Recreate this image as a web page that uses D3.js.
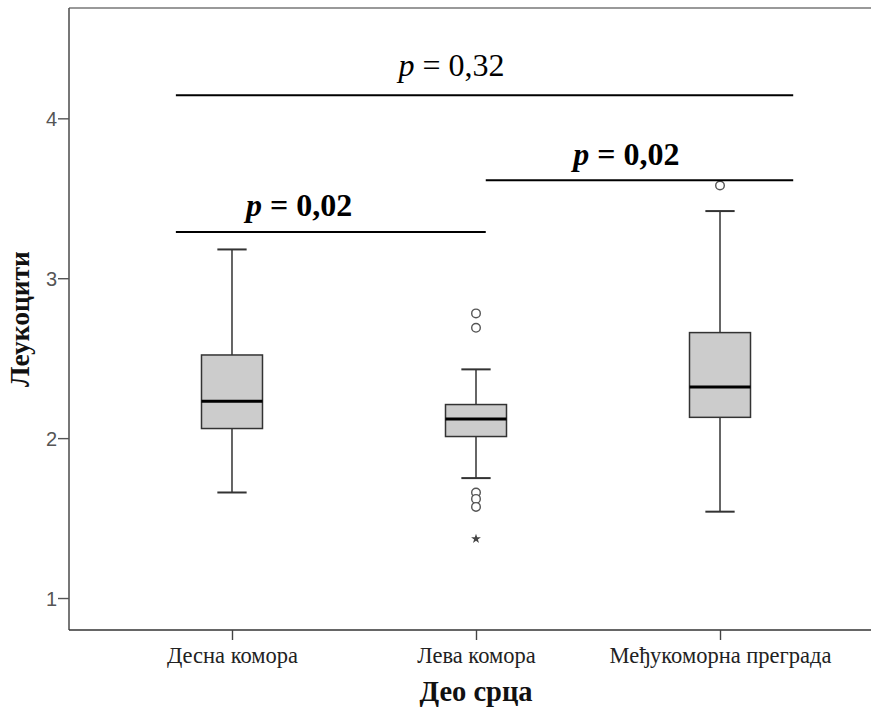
<!DOCTYPE html>
<html>
<head>
<meta charset="utf-8">
<script src="https://cdn.jsdelivr.net/npm/d3@7"></script>
<style>
  html, body { margin: 0; padding: 0; background: #fff; }
  svg { display: block; }
</style>
</head>
<body>
<svg id="chart" width="871" height="713"></svg>
<script>
// Leukocyte values by heart region
const categories = ["Десна комора", "Лева комора", "Међукоморна преграда"];
const whiskerLow = [1.66, 1.75, 1.54];
const q1 = [2.06, 2.01, 2.13];
const medians = [2.23, 2.12, 2.32];
const q3 = [2.52, 2.21, 2.66];
const whiskerHigh = [3.18, 2.43, 3.42];
const outliers = [[], [2.78, 2.69, 1.66, 1.62, 1.57], [3.58]];
const extremes = [[], [1.37], []];
const yTicks = [1, 2, 3, 4];

// Pairwise comparisons: span in category-index units, bracket level, label
const pLabels = ["0,32", "0,02", "0,02"];
const pBold = [false, true, true];
const bracketFrom = [-0.23, -0.23, 1.04];
const bracketTo = [2.30, 1.04, 2.30];
const bracketLevel = [4.144, 3.289, 3.6125];
const labelLevel = [4.2625, 3.3875, 3.706];
const labelAt = [0.9, 0.275, 1.616];

const svg = d3.select("#chart");
const plotLeft = 69, plotTop = 8, plotRight = 883, plotBottom = 630;

const x = d3.scalePoint().domain(categories).range([plotLeft, plotRight]).padding(0.668);
const xi = i => x(categories[0]) + i * x.step();
const y = d3.scaleLinear().domain([0.8, 4.69]).range([plotBottom, plotTop]);
const boxW = x.step() * 0.25;
const capW = boxW * 0.48;

// frame
svg.append("line").attr("x1", plotLeft).attr("x2", plotRight).attr("y1", plotTop).attr("y2", plotTop)
  .attr("stroke", "#999").attr("stroke-width", 2);

// y axis
const yAxis = svg.append("g").attr("transform", `translate(${plotLeft},0)`)
  .call(d3.axisLeft(y).tickValues(yTicks).tickFormat(d3.format("d")).tickSize(11).tickSizeOuter(0));
yAxis.select(".domain").attr("stroke", "#555").attr("stroke-width", 1.6)
  .attr("d", `M0,${plotTop}V${plotBottom}`);
yAxis.selectAll(".tick line").attr("stroke", "#555").attr("stroke-width", 1.4);
yAxis.selectAll(".tick text").attr("font-family", "Liberation Sans, Arial, sans-serif")
  .attr("font-size", 20).attr("fill", "#555").attr("x", -12).attr("dy", "0.36em");

// x axis
const xAxis = svg.append("g").attr("transform", `translate(0,${plotBottom})`)
  .call(d3.axisBottom(x).tickSize(10).tickSizeOuter(0));
xAxis.select(".domain").attr("stroke", "#333").attr("stroke-width", 1.6)
  .attr("d", `M${plotLeft},0H${plotRight}`);
xAxis.selectAll(".tick line").attr("stroke", "#444").attr("stroke-width", 1.4);
xAxis.selectAll(".tick text").attr("font-family", "Liberation Serif, serif")
  .attr("font-size", 22.5).attr("fill", "#222").attr("y", 33).attr("dy", 0);

// axis titles
svg.append("text").attr("transform", `translate(29,${(plotTop + plotBottom) / 2}) rotate(-90)`)
  .attr("text-anchor", "middle").attr("font-family", "Liberation Serif, serif")
  .attr("font-weight", "bold").attr("font-size", 27.5).attr("fill", "#111").text("Леукоцити");
svg.append("text").attr("x", x(categories[1])).attr("y", 701)
  .attr("text-anchor", "middle").attr("font-family", "Liberation Serif, serif")
  .attr("font-weight", "bold").attr("font-size", 28.5).attr("fill", "#111").text("Део срца");

// boxes
const boxes = svg.append("g").selectAll("g").data(categories).join("g")
  .attr("transform", d => `translate(${x(d)},0)`);
boxes.append("line").attr("y1", (d, i) => y(whiskerLow[i])).attr("y2", (d, i) => y(q1[i]))
  .attr("stroke", "#333").attr("stroke-width", 1.5);
boxes.append("line").attr("y1", (d, i) => y(q3[i])).attr("y2", (d, i) => y(whiskerHigh[i]))
  .attr("stroke", "#333").attr("stroke-width", 1.5);
boxes.append("line").attr("x1", -capW / 2).attr("x2", capW / 2)
  .attr("y1", (d, i) => y(whiskerLow[i])).attr("y2", (d, i) => y(whiskerLow[i]))
  .attr("stroke", "#333").attr("stroke-width", 2);
boxes.append("line").attr("x1", -capW / 2).attr("x2", capW / 2)
  .attr("y1", (d, i) => y(whiskerHigh[i])).attr("y2", (d, i) => y(whiskerHigh[i]))
  .attr("stroke", "#333").attr("stroke-width", 2);
boxes.append("rect").attr("x", -boxW / 2).attr("width", boxW)
  .attr("y", (d, i) => y(q3[i])).attr("height", (d, i) => y(q1[i]) - y(q3[i]))
  .attr("fill", "#cccccc").attr("stroke", "#333").attr("stroke-width", 1.5);
boxes.append("line").attr("x1", -boxW / 2).attr("x2", boxW / 2)
  .attr("y1", (d, i) => y(medians[i])).attr("y2", (d, i) => y(medians[i]))
  .attr("stroke", "#000").attr("stroke-width", 3);

// outliers and extremes
boxes.selectAll("circle").data((d, i) => outliers[i]).join("circle")
  .attr("cy", v => y(v)).attr("r", 4.3)
  .attr("fill", "#fff").attr("stroke", "#555").attr("stroke-width", 1.4);
boxes.selectAll("path.extreme").data((d, i) => extremes[i]).join("path")
  .attr("class", "extreme")
  .attr("transform", v => `translate(0,${y(v)})`)
  .attr("d", d3.symbol(d3.symbolStar, 30))
  .attr("fill", "#444");

// comparison brackets
const ann = svg.append("g");
pLabels.forEach((lab, k) => {
  ann.append("line").attr("x1", xi(bracketFrom[k])).attr("x2", xi(bracketTo[k]))
    .attr("y1", y(bracketLevel[k])).attr("y2", y(bracketLevel[k]))
    .attr("stroke", "#000").attr("stroke-width", 2);
  const t = ann.append("text").attr("x", xi(labelAt[k])).attr("y", y(labelLevel[k]))
    .attr("text-anchor", "middle").attr("font-family", "Liberation Serif, serif")
    .attr("font-size", 32).attr("fill", "#000")
    .attr("font-weight", pBold[k] ? "bold" : "normal")
    .attr("xml:space", "preserve");
  t.append("tspan").attr("font-style", "italic").text("p");
  t.append("tspan").text(" = " + lab);
});
</script>
</body>
</html>
